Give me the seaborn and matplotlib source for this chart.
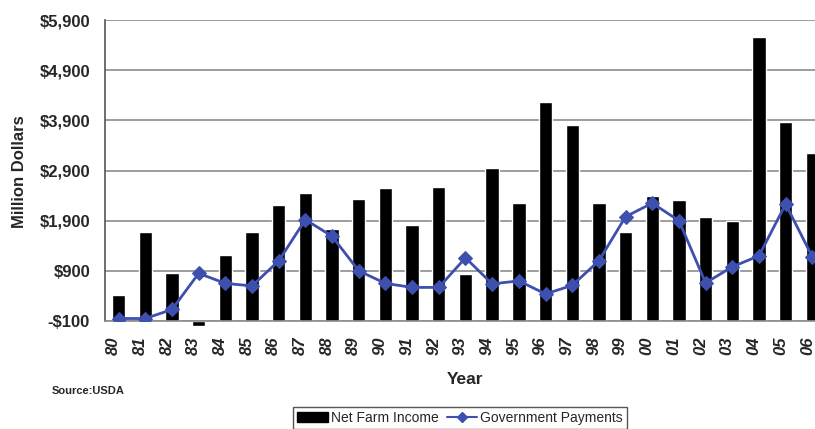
import numpy as np
import matplotlib
matplotlib.use("Agg")
import matplotlib.pyplot as plt
import matplotlib.transforms as mtransforms
import seaborn as sns
from matplotlib.patches import Patch
from matplotlib.lines import Line2D
from matplotlib.ticker import FuncFormatter

# Net farm income and government payments, million dollars
years = ["80", "81", "82", "83", "84", "85", "86", "87", "88", "89",
         "90", "91", "92", "93", "94", "95", "96", "97", "98", "99",
         "00", "01", "02", "03", "04", "05", "06"]
net_farm_income = [420, 1670, 850, -190, 1220, 1680, 2210, 2460, 1730, 2330,
                   2550, 1810, 2580, 840, 2960, 2250, 4270, 3810, 2260, 1680,
                   2390, 2310, 1970, 1890, 5570, 3860, 3240]
government_payments = [-50, -50, 130, 850, 650, 600, 1100, 1920, 1590, 900,
                       650, 570, 570, 1160, 640, 700, 440, 610, 1100, 1980,
                       2250, 1900, 660, 980, 1200, 2230, 1180]
y_ticks = [-100, 900, 1900, 2900, 3900, 4900, 5900]

baseline = -100  # horizontal axis crosses here; bars grow from it
line_blue = "#3d50b0"
grid_gray = "#8c8c8c"

sns.set_style("white")
plt.rcParams["font.family"] = ["Liberation Sans", "DejaVu Sans"]

fig = plt.figure(figsize=(8.15, 4.29), dpi=100)
ax = fig.add_axes([0.1292, 0.2517, 0.8839, 0.7016])

heights = [v - baseline for v in net_farm_income]
sns.barplot(x=years, y=heights, order=years, bottom=baseline, color="black",
            saturation=1, width=0.5, errorbar=None, ax=ax, zorder=2)
for p in ax.patches:
    p.set_clip_on(False)

sns.lineplot(x=np.arange(len(years)), y=government_payments, color=line_blue,
             marker="D", markersize=7, markeredgecolor=line_blue,
             linewidth=2, ax=ax, zorder=3)

ax.set_xlim(-0.5, len(years) - 0.5)
ax.set_ylim(y_ticks[0], y_ticks[-1])

ax.set_yticks(y_ticks)
ax.yaxis.set_major_formatter(FuncFormatter(
    lambda v, _: f"-${abs(v):,.0f}" if v < 0 else f"${v:,.0f}"))
for lbl in ax.get_yticklabels():
    lbl.set_fontweight("bold")
    lbl.set_fontsize(12)
ax.tick_params(axis="y", length=5, width=1, color=grid_gray, pad=6)

ax.set_xticks(np.arange(len(years)))
ax.set_xticklabels(years, rotation=90, fontweight="bold", fontstyle="italic",
                   fontsize=12)
ax.set_xticks(np.arange(len(years) + 1) - 0.5, minor=True)
ax.tick_params(axis="x", which="major", length=0, pad=11)
ax.tick_params(axis="x", which="minor", length=5, width=1, color=grid_gray,
               direction="out")
# rotated year labels sit a little left of each bar
shift = mtransforms.ScaledTranslation(-5 / 100, 0, fig.dpi_scale_trans)
for lbl in ax.get_xticklabels():
    lbl.set_transform(lbl.get_transform() + shift)

ax.set_xlabel("")
ax.set_ylabel("")
ax.yaxis.grid(True, color=grid_gray, linewidth=1.2)
ax.set_axisbelow(True)

for side in ("top", "right"):
    ax.spines[side].set_visible(False)
ax.spines["left"].set_color("#555555")
ax.spines["left"].set_linewidth(1.2)
ax.spines["bottom"].set_color(grid_gray)
ax.spines["bottom"].set_linewidth(1.2)

fig.text(20 / 815, 1 - 172 / 429, "Million Dollars", rotation=90,
         ha="center", va="center", fontsize=12, fontweight="bold")
fig.text(465 / 815, 1 - 380 / 429, "Year", ha="center", va="center",
         fontsize=12.5, fontweight="bold")
fig.text(52 / 815, 1 - 391 / 429, "Source:USDA", ha="left", va="center",
         fontsize=8, fontweight="bold")

handles = [Patch(facecolor="black", edgecolor="black"),
           Line2D([], [], color=line_blue, marker="D", markersize=5,
                  linewidth=1.5)]
fig.legend(handles, ["Net Farm Income", "Government Payments"],
           loc="center", bbox_to_anchor=(460 / 815, 1 - 418 / 429), ncol=2,
           frameon=True, fancybox=False, edgecolor="#555555", fontsize=10,
           handlelength=2.2, handletextpad=0.2, columnspacing=0.6,
           borderpad=0.3, framealpha=1)

fig.savefig("out.png", dpi=100)
